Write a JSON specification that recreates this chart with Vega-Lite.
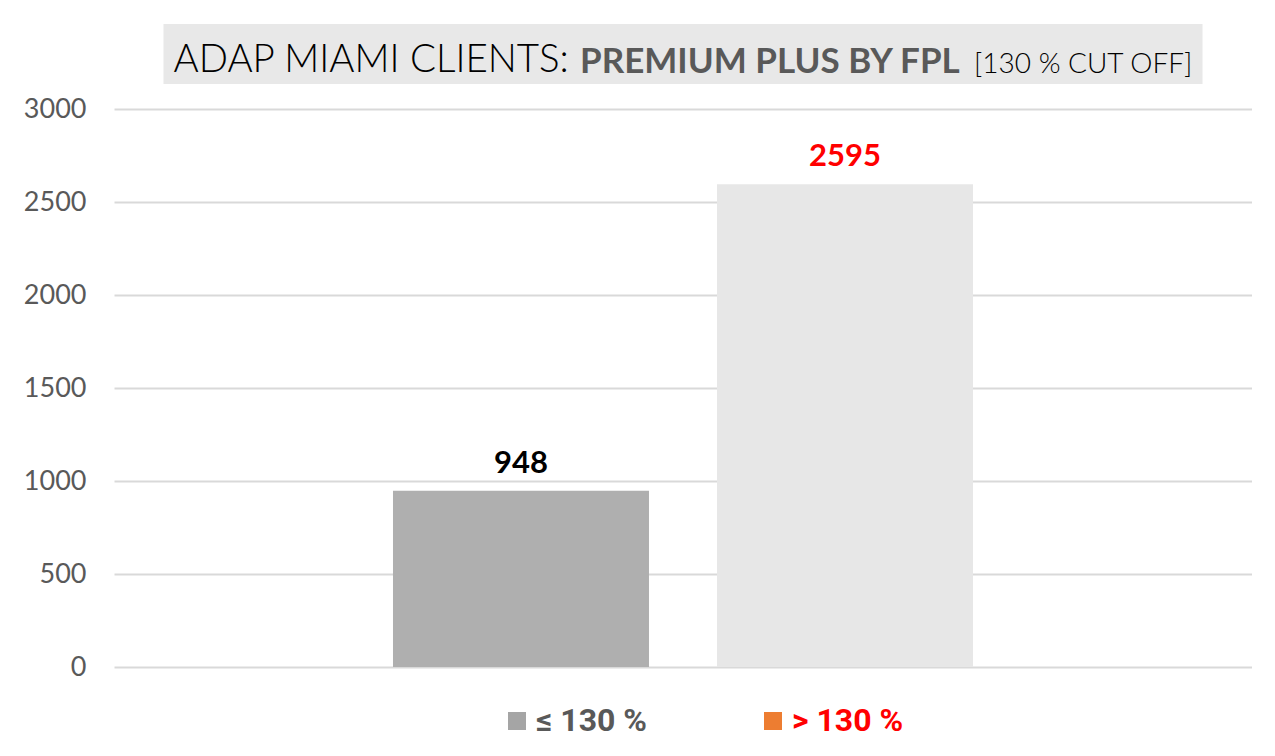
{
  "$schema": "https://vega.github.io/schema/vega-lite/v6.json",
  "padding": {"left": 23, "top": 24, "right": 0, "bottom": 12},
  "background": "white",
  "bounds": "flush",
  "center": true,
  "spacing": 25,
  "config": {"view": {"stroke": null}},
  "vconcat": [
    {
      "width": 1039,
      "height": 60,
      "view": {"fill": "#e8e8e8", "stroke": null},
      "data": {"values": [{"k": 0}]},
      "mark": {"type": "point", "opacity": 0},
      "title": {
        "text": "ADAP MIAMI CLIENTS:",
        "anchor": "start",
        "frame": "group",
        "orient": "top",
        "offset": 0,
        "dx": 10,
        "dy": 86,
        "baseline": "alphabetic",
        "font": "Lato",
        "fontSize": 38.5,
        "fontWeight": 300,
        "color": "#000000"
      },
      "encoding": {
        "x": {
          "field": "k",
          "type": "quantitative",
          "axis": {
            "title": "PREMIUM PLUS BY FPL",
            "domain": false,
            "ticks": false,
            "labels": false,
            "grid": false,
            "titleX": 416,
            "titleY": -12,
            "titlePadding": 0,
            "titleAlign": "left",
            "titleBaseline": "alphabetic",
            "titleFont": "Lato",
            "titleFontSize": 35,
            "titleFontWeight": "bold",
            "titleColor": "#595959"
          }
        },
        "y": {
          "field": "k",
          "type": "quantitative",
          "axis": {
            "title": "[130 % CUT OFF]",
            "domain": false,
            "ticks": false,
            "labels": false,
            "grid": false,
            "titleAngle": 0,
            "titleX": 810,
            "titleY": 48,
            "titleAlign": "left",
            "titleBaseline": "alphabetic",
            "titleFont": "Lato",
            "titleFontSize": 28,
            "titleFontWeight": 300,
            "titleColor": "#000000"
          }
        }
      }
    },
    {
      "width": 1138,
      "height": 558,
      "data": {
        "values": [
          {"group": "≤ 130 %", "clients": 948},
          {"group": "> 130 %", "clients": 2595}
        ]
      },
      "encoding": {
        "x": {
          "field": "group",
          "type": "nominal",
          "sort": null,
          "scale": {"paddingInner": 0.21, "paddingOuter": 0.861},
          "axis": null
        },
        "y": {
          "field": "clients",
          "type": "quantitative",
          "scale": {"domain": [0, 3000]},
          "axis": {
            "values": [0, 500, 1000, 1500, 2000, 2500, 3000],
            "format": "d",
            "title": null,
            "domain": false,
            "ticks": false,
            "labelPadding": 28,
            "labelFont": "Lato",
            "labelFontSize": 27,
            "labelColor": "#595959",
            "gridColor": "#d9d9d9",
            "gridWidth": 2
          }
        }
      },
      "resolve": {"scale": {"color": "independent"}},
      "layer": [
        {
          "mark": {"type": "bar"},
          "encoding": {
            "color": {
              "field": "group",
              "type": "nominal",
              "sort": null,
              "scale": {"range": ["#afafaf", "#e7e7e7"]},
              "legend": null
            }
          }
        },
        {
          "mark": {"type": "square", "filled": true, "opacity": 0, "size": 324},
          "encoding": {
            "color": {
              "field": "group",
              "type": "nominal",
              "sort": null,
              "scale": {"range": ["#a5a5a5", "#ed7d31"]},
              "legend": {
                "orient": "none",
                "legendX": 387,
                "legendY": 596,
                "direction": "horizontal",
                "title": null,
                "padding": 0,
                "symbolType": "square",
                "symbolSize": 324,
                "symbolOpacity": 1,
                "symbolStrokeWidth": 0,
                "labelFont": "Roboto",
                "labelFontSize": 32,
                "labelFontWeight": "bold",
                "labelOffset": 3,
                "labelLimit": 300,
                "columnPadding": 110,
                "encode": {
                  "labels": {
                    "update": {
                      "fill": {"signal": "datum.value === '> 130 %' ? '#ff0000' : '#595959'"}
                    }
                  }
                }
              }
            }
          }
        },
        {
          "mark": {
            "type": "text",
            "baseline": "alphabetic",
            "dy": -18,
            "font": "Lato",
            "fontSize": 31,
            "fontWeight": "bold"
          },
          "encoding": {
            "text": {"field": "clients", "type": "quantitative", "format": "d"},
            "color": {
              "condition": {"test": "datum.group === '> 130 %'", "value": "#ff0000"},
              "value": "#000000"
            }
          }
        }
      ]
    }
  ]
}
